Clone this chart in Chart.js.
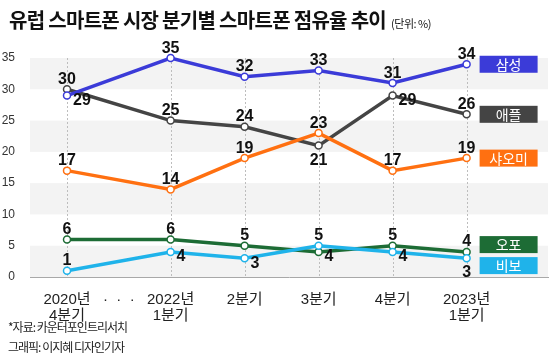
<!DOCTYPE html>
<html><head><meta charset="utf-8">
<script src="https://cdn.jsdelivr.net/npm/chart.js@4.4.0/dist/chart.umd.min.js"></script>
<style>
html,body{margin:0;padding:0;background:#fff;}
#wrap{position:relative;width:560px;height:357px;overflow:hidden;}
#c{position:absolute;left:0;top:0;}
.title{position:absolute;left:9px;top:10px;font-family:'Noto Sans CJK KR',sans-serif;font-weight:700;font-size:20px;line-height:20px;color:#111;letter-spacing:-0.7px;white-space:nowrap;}
.title span{font-weight:400;font-size:11px;letter-spacing:-0.5px;margin-left:5px;}
.src{position:absolute;left:8px;font-family:'Noto Sans CJK KR',sans-serif;font-size:12px;line-height:14px;color:#222;letter-spacing:-1px;white-space:nowrap;}
</style></head>
<body><div id="wrap">
<canvas id="c" width="560" height="357"></canvas>
<div class="title">유럽 스마트폰 시장 분기별 스마트폰 점유율 추이<span>(단위: %)</span></div>
<div class="src" style="top:320px">*자료: 카운터포인트리서치</div>
<div class="src" style="top:340px">그래픽: 이지혜 디자인기자</div>
</div>
<script>
// ---- data ----
const quarters = [['2020년','4분기'], ['2022년','1분기'], '2분기', '3분기', '4분기', ['2023년','1분기']];
const quarterPos = [0, 1.4, 2.4, 3.4, 4.4, 5.4];
const gapLabel = '·  ·  ·';
const gapPos = 0.7;
const brands = ['삼성','애플','샤오미','오포','비보'];
const samsung = [29, 35, 32, 33, 31, 34];
const apple   = [30, 25, 24, 21, 29, 26];
const xiaomi  = [17, 14, 19, 23, 17, 19];
const oppo    = [6, 6, 5, 4, 5, 4];
const vivo    = [1, 4, 3, 5, 4, 3];
const yTicks  = [0, 5, 10, 15, 20, 25, 30, 35];
// where each value label sits relative to its point
const samsungLabelSide = ['right','top','top','top','top','top'];
const appleLabelSide   = ['top','top','top','bottom','right','top'];
const xiaomiLabelSide  = ['top','top','top','top','top','top'];
const oppoLabelSide    = ['top','top','top','right','top','top'];
const vivoLabelSide    = ['top','right','right','top','right','bottom'];

const colors = ['#3b3bd8','#444444','#ff7011','#1d6c35','#1fb3ea'];
const series = [samsung, apple, xiaomi, oppo, vivo];
const sides = [samsungLabelSide, appleLabelSide, xiaomiLabelSide, oppoLabelSide, vivoLabelSide];
const drawOrder = [1, 3, 2, 4, 0];

const NARROW = "'Liberation Sans Narrow','Arial Narrow','Liberation Sans','Noto Sans CJK KR',sans-serif";

const datasets = series.map((vals, k) => ({
  label: brands[k],
  data: vals.map((v, i) => ({x: quarterPos[i], y: v})),
  borderColor: colors[k],
  backgroundColor: colors[k],
  borderWidth: 3.5,
  pointRadius: 3.5,
  pointBorderWidth: 1.5,
  pointBackgroundColor: '#fff',
  pointBorderColor: colors[k],
  pointHoverRadius: 3.5,
  tension: 0,
  clip: false,
  order: drawOrder[k],
  labelSide: sides[k]
}));

const bgPlugin = {
  id: 'bg',
  beforeDraw(chart) {
    const {ctx, chartArea: a, scales: {x, y}} = chart;
    ctx.save();
    ctx.fillStyle = '#f3f3f3';
    for (let i = 0; i + 1 < yTicks.length; i += 2) {
      const t = y.getPixelForValue(yTicks[i + 1]), b = y.getPixelForValue(yTicks[i]);
      ctx.fillRect(a.left, t, a.right - a.left, b - t);
    }
    ctx.strokeStyle = '#bdbdbd';
    ctx.lineWidth = 1;
    ctx.setLineDash([2, 2]);
    quarterPos.forEach(p => {
      const px = Math.round(x.getPixelForValue(p)) + 0.5;
      ctx.beginPath();
      ctx.moveTo(px, a.top);
      ctx.lineTo(px, a.bottom);
      ctx.stroke();
    });
    ctx.restore();
  },
  afterDatasetsDraw(chart) {
    const {ctx, scales: {x, y}} = chart;
    ctx.save();
    // value labels
    ctx.fillStyle = '#111';
    ctx.font = "bold 16px " + NARROW;
    chart.data.datasets.forEach((ds, k) => {
      const meta = chart.getDatasetMeta(k);
      meta.data.forEach((pt, i) => {
        const side = ds.labelSide[i];
        const txt = String(ds.data[i].y);
        if (side === 'top') {
          ctx.textAlign = 'center'; ctx.textBaseline = 'alphabetic';
          ctx.fillText(txt, pt.x, pt.y - 5.5);
        } else if (side === 'right') {
          ctx.textAlign = 'left'; ctx.textBaseline = 'alphabetic';
          ctx.fillText(txt, pt.x + 6, pt.y + 9.5);
        } else {
          ctx.textAlign = 'center'; ctx.textBaseline = 'alphabetic';
          ctx.fillText(txt, pt.x, pt.y + 19);
        }
      });
    });
    // name boxes
    const boxes = chart.data.datasets.map(ds => ({ds, y: y.getPixelForValue(ds.data[ds.data.length - 1].y)}));
    boxes.sort((a, b) => a.y - b.y);
    const gap = 21;
    for (let it = 0; it < 5; it++) {
      for (let i = 1; i < boxes.length; i++) {
        if (boxes[i].y - boxes[i - 1].y < gap) {
          const m = (boxes[i].y + boxes[i - 1].y) / 2;
          boxes[i - 1].y = m - gap / 2; boxes[i].y = m + gap / 2;
        }
      }
    }
    const bx = x.getPixelForValue(quarterPos[quarterPos.length - 1]) + 13;
    boxes.forEach(b => {
      ctx.fillStyle = b.ds.borderColor;
      ctx.fillRect(bx, b.y - 8.5, 58, 17);
      ctx.fillStyle = '#fff';
      ctx.font = "14px 'Noto Sans CJK KR',sans-serif";
      ctx.textAlign = 'center'; ctx.textBaseline = 'middle';
      ctx.fillText(b.ds.label, bx + 29, b.y + 0.5);
    });
    ctx.restore();
  }
};

new Chart(document.getElementById('c'), {
  type: 'line',
  data: {datasets},
  plugins: [bgPlugin],
  options: {
    responsive: false,
    animation: false,
    events: [],
    layout: {padding: {top: 58, right: 12, left: 0, bottom: 0}},
    plugins: {legend: {display: false}, title: {display: false}, tooltip: {enabled: false}},
    scales: {
      x: {
        type: 'linear', min: -0.5, max: 6.5, bounds: 'data',
        afterBuildTicks: s => {
          s.ticks = [...quarterPos, gapPos].sort((a, b) => a - b).map(v => ({value: v}));
        },
        afterFit: s => { s.height = 80; },
        grid: {display: false},
        border: {display: true, color: '#a8a8a8', width: 1},
        ticks: {
          autoSkip: false, maxRotation: 0, minRotation: 0, padding: 6,
          color: '#222',
          font: {family: NARROW, size: 15, lineHeight: 1.12},
          callback: v => {
            const i = quarterPos.indexOf(v);
            return i >= 0 ? quarters[i] : gapLabel;
          }
        }
      },
      y: {
        min: 0, max: 35,
        afterBuildTicks: s => { s.ticks = yTicks.map(v => ({value: v})); },
        afterFit: s => { s.width = 30; },
        grid: {display: false},
        border: {display: false},
        ticks: {padding: 7, color: '#333', font: {family: "'Liberation Sans',sans-serif", size: 12}}
      }
    }
  }
});
</script>
</body></html>
